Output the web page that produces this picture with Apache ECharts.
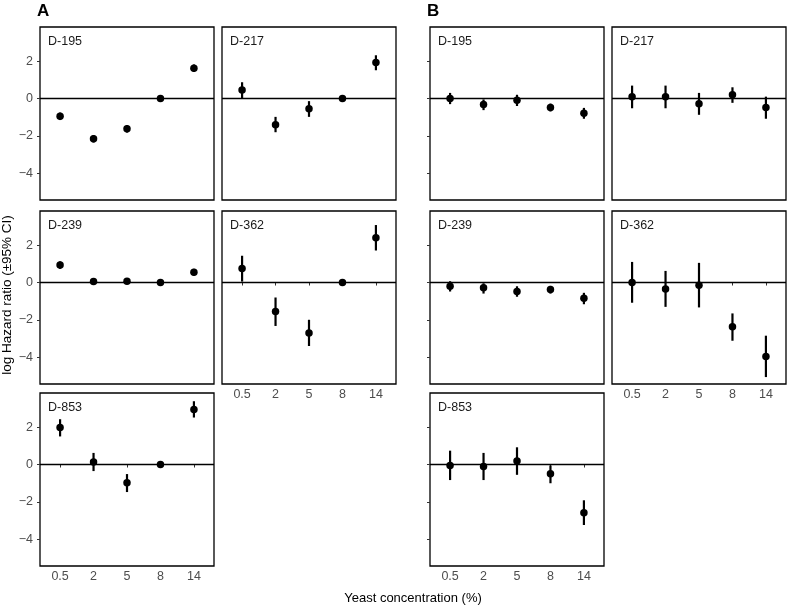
<!DOCTYPE html>
<html>
<head>
<meta charset="utf-8">
<script src="https://cdn.jsdelivr.net/npm/echarts@6/dist/echarts.min.js"></script>
<style>html,body{margin:0;padding:0;background:#fff;}#c{width:787px;height:607px;}</style>
</head>
<body>
<div id="c"></div>
<script>
// ---- data ----
const categories = ['0.5', '2', '5', '8', '14'];
const yTicks = [-4, -2, 0, 2];
const panelNames = ['D-195', 'D-217', 'D-239', 'D-362', 'D-853'];

// Group A
const estA_D195 = [-0.95, -2.15, -1.62, 0, 1.62];
const loA_D195  = [-1.15, -2.35, -1.82, 0, 1.42];
const hiA_D195  = [-0.75, -1.95, -1.42, 0, 1.82];
const estA_D217 = [0.46, -1.40, -0.55, 0, 1.92];
const loA_D217  = [0.00, -1.80, -0.98, 0, 1.51];
const hiA_D217  = [0.87, -0.98, -0.14, 0, 2.31];
const estA_D239 = [0.93, 0.05, 0.07, 0, 0.55];
const loA_D239  = [0.73, -0.08, -0.06, 0, 0.37];
const hiA_D239  = [1.13, 0.18, 0.20, 0, 0.73];
const estA_D362 = [0.75, -1.55, -2.69, 0, 2.39];
const loA_D362  = [0.05, -2.32, -3.39, 0, 1.71];
const hiA_D362  = [1.43, -0.80, -1.99, 0, 3.07];
const estA_D853 = [1.98, 0.14, -0.97, 0, 2.94];
const loA_D853  = [1.50, -0.35, -1.47, 0, 2.51];
const hiA_D853  = [2.42, 0.62, -0.51, 0, 3.38];

// Group B
const estB_D195 = [0.00, -0.32, -0.09, -0.48, -0.78];
const loB_D195  = [-0.30, -0.62, -0.40, -0.69, -1.08];
const hiB_D195  = [0.30, -0.05, 0.20, -0.27, -0.50];
const estB_D217 = [0.10, 0.10, -0.28, 0.20, -0.48];
const loB_D217  = [-0.52, -0.52, -0.87, -0.23, -1.08];
const hiB_D217  = [0.69, 0.69, 0.30, 0.60, 0.10];
const estB_D239 = [-0.20, -0.28, -0.48, -0.37, -0.84];
const loB_D239  = [-0.48, -0.59, -0.76, -0.59, -1.16];
const hiB_D239  = [0.07, -0.04, -0.20, -0.18, -0.55];
const estB_D362 = [0.00, -0.34, -0.14, -2.36, -3.95];
const loB_D362  = [-1.08, -1.30, -1.33, -3.11, -5.05];
const hiB_D362  = [1.10, 0.62, 1.05, -1.65, -2.84];
const estB_D853 = [-0.05, -0.10, 0.19, -0.49, -2.58];
const loB_D853  = [-0.83, -0.83, -0.55, -1.00, -3.23];
const hiB_D853  = [0.74, 0.62, 0.92, -0.05, -1.91];

// ---- layout ----
const groupA = [[estA_D195, loA_D195, hiA_D195], [estA_D217, loA_D217, hiA_D217], [estA_D239, loA_D239, hiA_D239], [estA_D362, loA_D362, hiA_D362], [estA_D853, loA_D853, hiA_D853]];
const groupB = [[estB_D195, loB_D195, hiB_D195], [estB_D217, loB_D217, hiB_D217], [estB_D239, loB_D239, hiB_D239], [estB_D362, loB_D362, hiB_D362], [estB_D853, loB_D853, hiB_D853]];
const groups = [{name: 'A', x0: 40, x1: 222, panels: groupA}, {name: 'B', x0: 430, x1: 612, panels: groupB}];
const rowTops = [27, 211, 393];
const W = 174, H = 173;
const FONT = '"Liberation Sans", Arial, Helvetica, sans-serif';
const minus = v => v < 0 ? '\u2212' + Math.abs(v) : String(v);

const grids = [], xAxes = [], yAxes = [], series = [], graphics = [];
let gi = 0;
groups.forEach((g, gIdx) => {
  graphics.push({type: 'text', left: g.x0 - 3, top: 3, style: {text: g.name, font: 'bold 17px ' + FONT, fill: '#000'}});
  g.panels.forEach((p, i) => {
    const row = Math.floor(i / 2), col = i % 2;
    const left = col === 0 ? g.x0 : g.x1;
    const top = rowTops[row];
    const showX = (i === 3 || i === 4);
    grids.push({left: left, top: top, width: W, height: H, show: true, borderColor: '#000', borderWidth: 1.3, backgroundColor: '#fff', containLabel: false});
    xAxes.push({
      gridIndex: gi, type: 'value', min: 0.4, max: 5.6,
      axisLine: {show: false}, splitLine: {show: false},
      axisTick: {show: showX, customValues: [1, 2, 3, 4, 5], length: 3, lineStyle: {color: '#333', width: 1}},
      axisLabel: {show: showX, customValues: [1, 2, 3, 4, 5], formatter: v => categories[Math.round(v) - 1], color: '#4d4d4d', fontSize: 12.5, fontFamily: FONT, margin: 4}
    });
    yAxes.push({
      gridIndex: gi, type: 'value', min: -5.42, max: 3.82,
      axisLine: {show: false}, splitLine: {show: false},
      axisTick: {show: col === 0, customValues: yTicks, length: 3, lineStyle: {color: '#333', width: 1}},
      axisLabel: {show: col === 0 && gIdx === 0, customValues: yTicks, formatter: minus, color: '#4d4d4d', fontSize: 12.5, fontFamily: FONT, margin: 7}
    });
    const est = p[0], lo = p[1], hi = p[2];
    series.push({
      type: 'custom', xAxisIndex: gi, yAxisIndex: gi, z: 2, silent: true,
      data: est.map((v, j) => [j + 1, lo[j], hi[j]]),
      encode: {x: 0, y: [1, 2]},
      renderItem: (params, api) => {
        const x = api.value(0);
        const a = api.coord([x, api.value(1)]);
        const b = api.coord([x, api.value(2)]);
        return {type: 'line', shape: {x1: a[0], y1: a[1], x2: b[0], y2: b[1]}, style: {stroke: '#000', lineWidth: 2.2}};
      },
      markLine: {silent: true, symbol: ['none', 'none'], label: {show: false}, lineStyle: {color: '#000', width: 1.4, type: 'solid'}, data: [{yAxis: 0}], animation: false}
    });
    series.push({
      type: 'scatter', xAxisIndex: gi, yAxisIndex: gi, z: 3, silent: true,
      symbol: 'circle', symbolSize: 7.5, itemStyle: {color: '#000', opacity: 1},
      data: est.map((v, j) => [j + 1, v])
    });
    graphics.push({type: 'text', left: left + 8, top: top + 8, style: {text: panelNames[i], font: '12.5px ' + FONT, fill: '#1a1a1a'}});
    gi++;
  });
});
graphics.push({type: 'text', x: 413, y: 598, style: {text: 'Yeast concentration (%)', font: '13px ' + FONT, fill: '#000', align: 'center', verticalAlign: 'middle'}});
graphics.push({type: 'text', x: 14, y: 295, rotation: Math.PI / 2, style: {text: 'log Hazard ratio (\u00B195% CI)', font: '13.5px ' + FONT, fill: '#000', align: 'center', verticalAlign: 'bottom'}});

const chart = echarts.init(document.getElementById('c'), null, {renderer: 'canvas'});
chart.setOption({
  animation: false,
  backgroundColor: '#fff',
  grid: grids, xAxis: xAxes, yAxis: yAxes, series: series,
  graphic: graphics
});
</script>
</body>
</html>
